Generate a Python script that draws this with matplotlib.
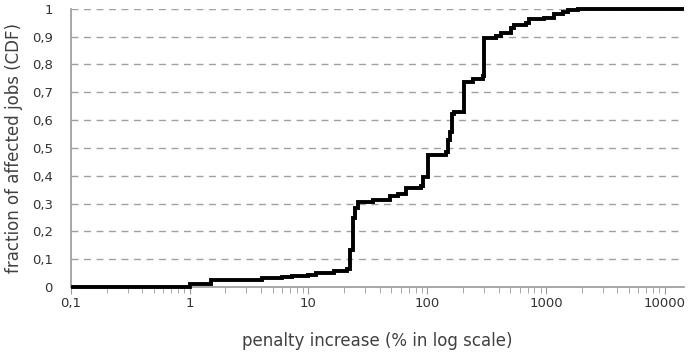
import matplotlib
matplotlib.use("Agg")
import matplotlib.pyplot as plt
from matplotlib.ticker import LogLocator, NullFormatter

# step positions (penalty increase, %) and CDF level reached at each step
penalty = [0.1, 1.0, 1.5, 4.1, 6.0, 7.3, 10, 11.5, 16.3, 21.3, 22.6, 23.8, 24.9, 26.4,
           35, 49, 57, 66, 88, 92, 101, 143, 149, 155, 161, 167, 203, 242, 294, 300,
           378, 417, 507, 537, 678, 719, 962, 1169, 1391, 1534, 1863, 14500]
cdf = [0, 0.012, 0.027, 0.032, 0.037, 0.04, 0.045, 0.05, 0.057, 0.065, 0.133, 0.248,
       0.284, 0.305, 0.313, 0.327, 0.335, 0.356, 0.363, 0.396, 0.475, 0.486, 0.529,
       0.558, 0.622, 0.63, 0.737, 0.748, 0.757, 0.896, 0.903, 0.914, 0.93, 0.942,
       0.95, 0.964, 0.968, 0.982, 0.989, 0.996, 1.0, 1.0]

xticks = [0.1, 1, 10, 100, 1000, 10000]
xtick_labels = ["0,1", "1", "10", "100", "1000", "10000"]
yticks = [i / 10 for i in range(11)]
ytick_labels = ["0"] + [f"0,{i}" for i in range(1, 10)] + ["1"]

fig = plt.figure(figsize=(6.88, 3.54), dpi=100)
ax = fig.add_axes([0.103, 0.189, 0.891, 0.786])

ax.step(penalty, cdf, where="post", color="black", lw=2.8, solid_joinstyle="miter",
        solid_capstyle="butt", clip_on=False, zorder=3)

ax.set_xscale("log")
ax.set_xlim(0.1, 14500)
ax.set_ylim(0, 1)

ax.set_xticks(xticks, xtick_labels)
ax.xaxis.set_minor_locator(LogLocator(base=10, subs=range(2, 10), numticks=20))
ax.xaxis.set_minor_formatter(NullFormatter())
ax.set_yticks(yticks, ytick_labels)

for y in yticks[1:]:
    ax.axhline(y, color="#a0a0a0", lw=1, ls=(0, (5, 4)), zorder=0)

for s in ["top", "right"]:
    ax.spines[s].set_visible(False)
for s in ["left", "bottom"]:
    ax.spines[s].set_color("#999999")
    ax.spines[s].set_linewidth(1.2)

ax.tick_params(axis="x", which="both", direction="out", color="#999999", labelsize=9.5,
               labelcolor="#333333", pad=2)
ax.tick_params(axis="x", which="major", length=5)
ax.tick_params(axis="x", which="minor", length=4)
ax.tick_params(axis="y", length=0, labelsize=9.5, labelcolor="#333333", pad=13)

ax.set_xlabel("penalty increase (% in log scale)", fontsize=12, color="#404040", labelpad=16)
ax.set_ylabel("fraction of affected jobs (CDF)", fontsize=12, color="#404040", labelpad=6)

fig.savefig("out.png", dpi=100)
